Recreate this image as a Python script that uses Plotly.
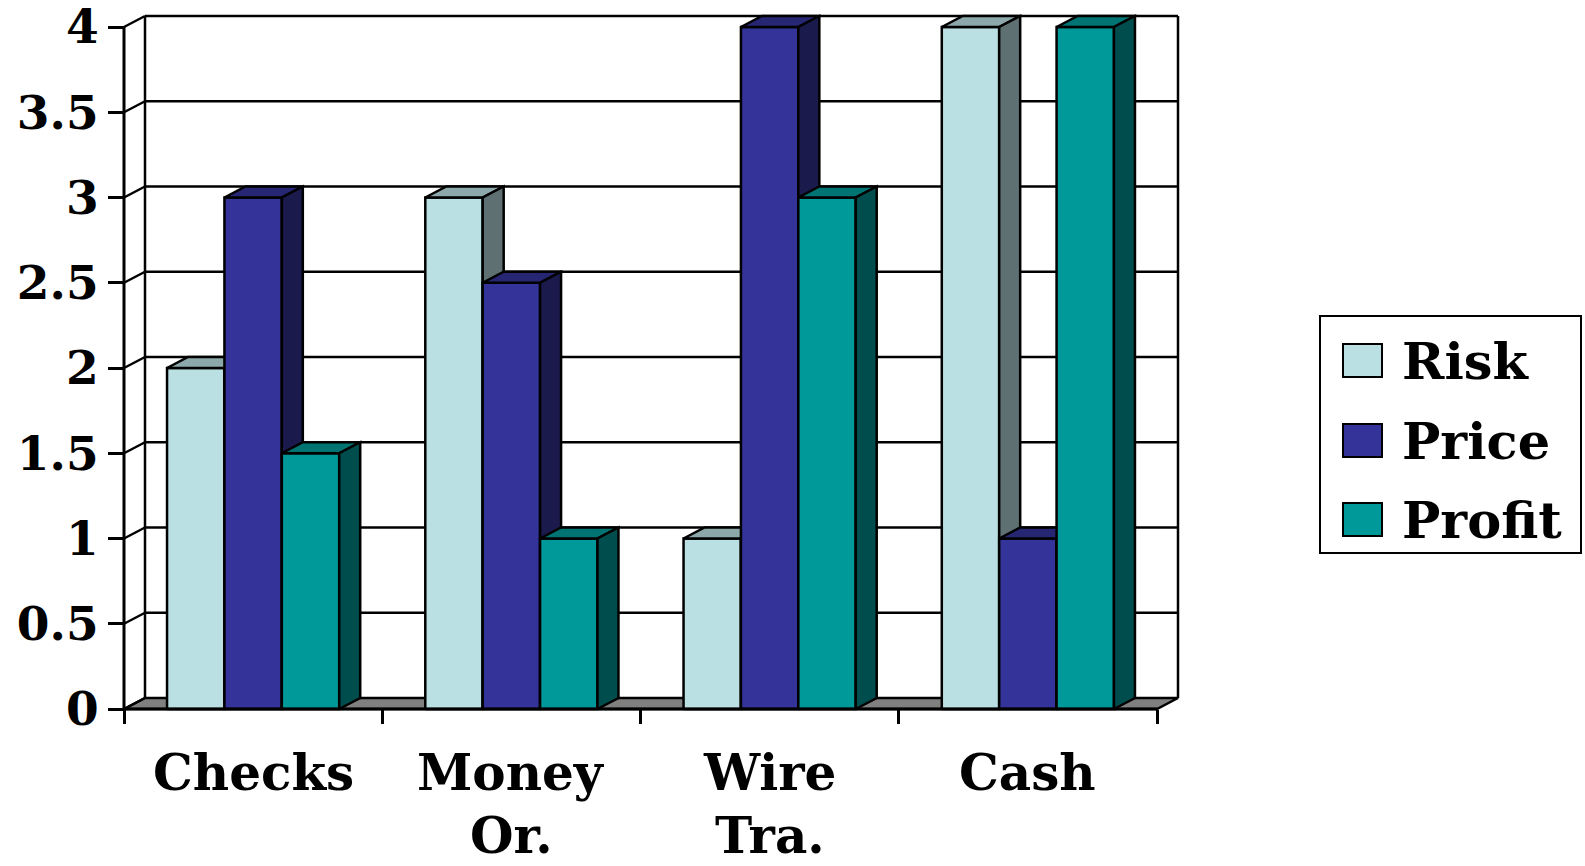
import plotly.graph_objects as go

# ---------------- data ----------------
categories = ["Checks", "Money Or.", "Wire Tra.", "Cash"]
series_names = ["Risk", "Price", "Profit"]
risk = [2, 3, 1, 4]
price = [3, 2.5, 4, 1]
profit = [1.5, 1, 3, 4]
y_ticks = [0, 0.5, 1, 1.5, 2, 2.5, 3, 3.5, 4]
y_tick_labels = ["0", "0.5", "1", "1.5", "2", "2.5", "3", "3.5", "4"]

series_values = [risk, price, profit]
front_colors = ["#BBE0E3", "#333399", "#009999"]
top_colors = ["#8CA8AA", "#262673", "#007373"]
side_colors = ["#5E7071", "#1A1A4D", "#004D4D"]
floor_color = "#808080"

# ---------------- geometry (pixels) ----------------
W, H = 1585, 866
X_FRONT_LEFT, X_FRONT_RIGHT = 124, 1157
Y_ZERO, Y_MAX_PIX = 709, 27
DEPTH_X_PX, DEPTH_Y_PX = 21, 11
PL, PR, PT, PB = 96, 1200, 4, 740

FONT = "DejaVu Serif"
ncat = len(categories)
px_per_x = (X_FRONT_RIGHT - X_FRONT_LEFT) / ncat
ymax = y_ticks[-1]
px_per_y = (Y_ZERO - Y_MAX_PIX) / ymax
dxu = DEPTH_X_PX / px_per_x
dyu = DEPTH_Y_PX / px_per_y


def px_to_x(p):
    return -0.5 + (p - X_FRONT_LEFT) / px_per_x


def px_to_y(p):
    return (Y_ZERO - p) / px_per_y


xr = [px_to_x(PL), px_to_x(PR)]
yr = [px_to_y(PB), px_to_y(PT)]

fig = go.Figure()

bw = 1 / 4.5
nser = len(series_names)
for ci in range(ncat):
    for si in range(nser):
        v = series_values[si][ci]
        x0 = ci + (si - nser / 2) * bw
        x1 = x0 + bw
        faces = [
            ([x0, x1, x1, x0, x0], [0, 0, v, v, 0], front_colors[si]),
            ([x0, x1, x1 + dxu, x0 + dxu, x0], [v, v, v + dyu, v + dyu, v], top_colors[si]),
            ([x1, x1 + dxu, x1 + dxu, x1, x1], [0, dyu, v + dyu, v, 0], side_colors[si]),
        ]
        for xs, ys, col in faces:
            fig.add_trace(go.Scatter(
                x=xs, y=ys, mode="lines", fill="toself", fillcolor=col,
                line=dict(color="black", width=2.5), showlegend=False,
                hoverinfo="skip", name=series_names[si]))

shapes = []
xl, xrt = -0.5, ncat - 0.5
# floor
shapes.append(dict(type="path", xref="x", yref="y", layer="below",
                   path=f"M{xl},0 L{xrt},0 L{xrt+dxu},{dyu} L{xl+dxu},{dyu} Z",
                   fillcolor=floor_color, line=dict(color="black", width=2.5)))
# back wall gridlines and side wall diagonals
for t in y_ticks[1:]:
    shapes.append(dict(type="line", xref="x", yref="y", layer="below",
                       x0=xl + dxu, x1=xrt + dxu, y0=t + dyu, y1=t + dyu,
                       line=dict(color="black", width=2.5)))
for t in y_ticks:
    shapes.append(dict(type="line", xref="x", yref="y", layer="below",
                       x0=xl, x1=xl + dxu, y0=t, y1=t + dyu,
                       line=dict(color="black", width=2.5)))
# back wall verticals
for xx in (xl + dxu, xrt + dxu):
    shapes.append(dict(type="line", xref="x", yref="y", layer="below",
                       x0=xx, x1=xx, y0=dyu, y1=ymax + dyu,
                       line=dict(color="black", width=2.5)))
# front value axis line
shapes.append(dict(type="line", xref="x", yref="y", layer="above",
                   x0=xl, x1=xl, y0=0, y1=ymax,
                   line=dict(color="black", width=3)))
# front category axis line
shapes.append(dict(type="line", xref="x", yref="y", layer="above",
                   x0=xl, x1=xrt, y0=0, y1=0,
                   line=dict(color="black", width=3)))

# legend (manual)
LEG_BOX = (1320, 316, 1581, 553)
shapes.append(dict(type="rect", xref="paper", yref="paper",
                   x0=LEG_BOX[0] / W, x1=LEG_BOX[2] / W,
                   y0=1 - LEG_BOX[3] / H, y1=1 - LEG_BOX[1] / H,
                   line=dict(color="black", width=2), fillcolor="white"))
leg_centers = [361, 441, 520]
annotations = []
for si in range(nser):
    cy = leg_centers[si]
    shapes.append(dict(type="rect", xref="paper", yref="paper",
                       x0=1343 / W, x1=1382 / W,
                       y0=1 - (cy + 16) / H, y1=1 - (cy - 17) / H,
                       line=dict(color="black", width=2),
                       fillcolor=front_colors[si]))
    annotations.append(dict(xref="paper", yref="paper", x=1400 / W, y=1 - cy / H,
                            text=series_names[si], showarrow=False,
                            xanchor="left", yanchor="middle",
                            font=dict(family=FONT, size=51, color="black",
                                      weight="bold")))

# category labels (first line centred, second line sits on the bottom edge)
for ci, cat in enumerate(categories):
    parts = cat.split(" ")
    annotations.append(dict(xref="x", yref="paper", x=ci, y=1 - 772 / H,
                            text=parts[0], showarrow=False,
                            xanchor="center", yanchor="middle",
                            font=dict(family=FONT, size=50, color="black",
                                      weight="bold")))
    if len(parts) > 1:
        annotations.append(dict(xref="x", yref="paper", x=ci, y=0.0,
                                text=parts[1], showarrow=False,
                                xanchor="center", yanchor="bottom",
                                borderpad=0,
                                font=dict(family=FONT, size=50, color="black",
                                          weight="bold")))

fig.update_layout(
    width=W, height=H,
    margin=dict(l=0, r=0, t=0, b=0, autoexpand=False),
    paper_bgcolor="white", plot_bgcolor="white",
    showlegend=False,
    shapes=shapes, annotations=annotations,
    xaxis=dict(domain=[PL / W, PR / W], range=xr, anchor="free",
               position=1 - Y_ZERO / H, automargin=False,
               tickvals=[i - 0.5 for i in range(ncat + 1)],
               ticktext=[""] * (ncat + 1),
               ticks="outside", ticklen=14, tickwidth=3, tickcolor="black",
               showgrid=False, zeroline=False, showline=False, fixedrange=True),
    yaxis=dict(domain=[1 - PB / H, 1 - PT / H], range=yr, anchor="free",
               position=X_FRONT_LEFT / W, automargin=False,
               tickvals=y_ticks, ticktext=y_tick_labels,
               ticks="outside", ticklen=16, tickwidth=3, tickcolor="black",
               ticklabeloverflow="allow",
               tickfont=dict(family=FONT, size=47, color="black", weight="bold"),
               showgrid=False, zeroline=False, showline=False, fixedrange=True),
)

fig.write_html("out.html")
